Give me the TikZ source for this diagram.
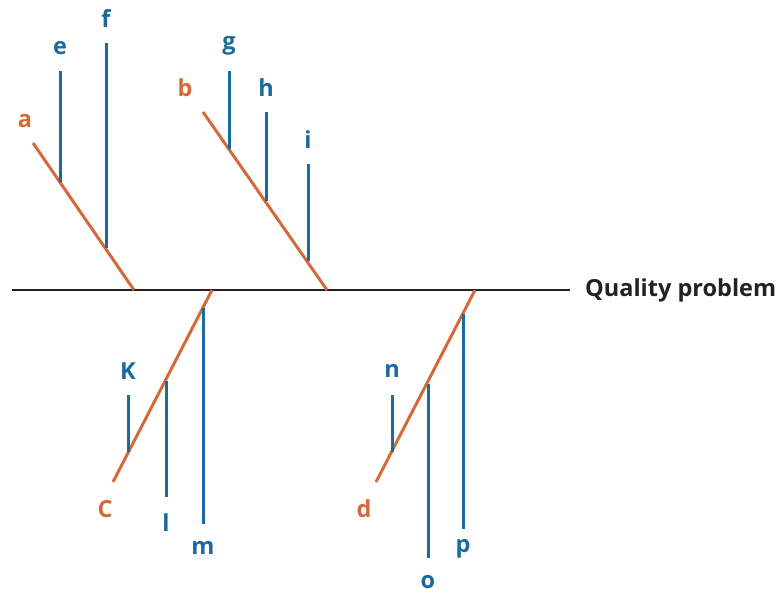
\documentclass[tikz,border=0pt]{standalone}
\usepackage{fontspec}
\setmainfont{Open Sans}
\definecolor{bone}{HTML}{D4693A}
\definecolor{sub}{HTML}{1C6A9B}
\definecolor{spinec}{HTML}{222222}
\begin{document}
\begin{tikzpicture}[x=1pt,y=-1pt,
  spine/.style={draw=spinec,line width=2.6pt},
  bonel/.style={draw=bone,line width=3pt},
  subl/.style={draw=sub,line width=3pt},
  bonetxt/.style={text=bone,font=\fontsize{23.5}{26}\selectfont\bfseries,inner sep=0pt},
  subtxt/.style={text=sub,font=\fontsize{23.5}{26}\selectfont\bfseries,inner sep=0pt},
  head/.style={text=spinec,font=\fontsize{23.5}{26}\selectfont\bfseries,inner sep=0pt,anchor=west}]
\useasboundingbox (0,0) rectangle (782,595);
% spine
\coordinate (s0) at (12,290);
\node[head] (q) at (585,290) {Quality problem};
\draw[spine] (s0) -- (570,290);
% bone a
\coordinate (a1) at (33,143); \coordinate (a2) at (134,290);
\node[bonetxt] (la) at (25,121) {a};
\draw[bonel] (a1) -- (a2);
\coordinate (e1) at (60,71); \coordinate (e2) at (60,182);
\coordinate (f1) at (106,43); \coordinate (f2) at (106,248);
\node[subtxt] (le) at (60,48) {e};
\node[subtxt] (lf) at (106,19) {f};
\draw[subl] (e1) -- (e2);
\draw[subl] (f1) -- (f2);
% bone b
\coordinate (b1) at (203,112); \coordinate (b2) at (327,290);
\node[bonetxt] (lb) at (185,88) {b};
\draw[bonel] (b1) -- (b2);
\coordinate (g1) at (229,71); \coordinate (g2) at (229,149);
\coordinate (h1) at (266,112); \coordinate (h2) at (266,201);
\coordinate (i1) at (308,164); \coordinate (i2) at (308,261);
\node[subtxt] (lg) at (229,46) {g};
\node[subtxt] (lh) at (266,88) {h};
\node[subtxt] (li) at (308,140) {i};
\draw[subl] (g1) -- (g2);
\draw[subl] (h1) -- (h2);
\draw[subl] (i1) -- (i2);
% bone C
\coordinate (c1) at (212,290); \coordinate (c2) at (113,482);
\node[bonetxt] (lc) at (105,509) {C};
\draw[bonel] (c1) -- (c2);
\coordinate (k1) at (128,395); \coordinate (k2) at (128,452);
\coordinate (l1) at (166,381); \coordinate (l2) at (166,497);
\coordinate (m1) at (203,308); \coordinate (m2) at (203,524);
\node[subtxt] (lk) at (128,371) {K};
\node[subtxt] (ll) at (166,523) {l};
\node[subtxt] (lm) at (203,548) {m};
\draw[subl] (k1) -- (k2);
\draw[subl] (l1) -- (l2);
\draw[subl] (m1) -- (m2);
% bone d
\coordinate (d1) at (475,290); \coordinate (d2) at (376,482);
\node[bonetxt] (ld) at (364,509) {d};
\draw[bonel] (d1) -- (d2);
\coordinate (n1) at (392,395); \coordinate (n2) at (392,452);
\coordinate (o1) at (428,384); \coordinate (o2) at (428,558);
\coordinate (p1) at (463,314); \coordinate (p2) at (463,529);
\node[subtxt] (ln) at (392,371) {n};
\node[subtxt] (lo) at (428,582) {o};
\node[subtxt] (lp) at (463,549) {p};
\draw[subl] (n1) -- (n2);
\draw[subl] (o1) -- (o2);
\draw[subl] (p1) -- (p2);
\end{tikzpicture}
\end{document}
